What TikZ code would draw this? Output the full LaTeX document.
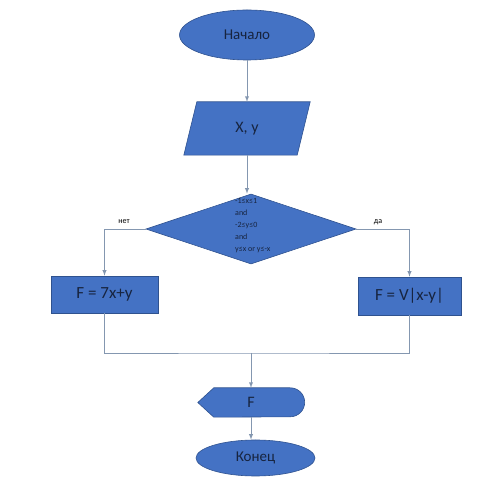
\documentclass[tikz,border=0pt]{standalone}
\usepackage{fontspec}
\setmainfont{Carlito}
\usetikzlibrary{shapes.geometric,arrows}

\definecolor{boxblue}{HTML}{4472C4}
\definecolor{boxedge}{HTML}{2F528F}
\definecolor{boxtext}{HTML}{17243F}
\definecolor{flowline}{HTML}{8497B0}

\begin{document}
\begin{tikzpicture}[x=1pt,y=1pt,
  blk/.style={draw=boxedge,line width=0.6pt,fill=boxblue,text=boxtext,inner sep=0pt},
  term/.style={blk,ellipse,font=\fontsize{15}{15}\selectfont},
  calc/.style={blk,rectangle,font=\fontsize{17}{17}\selectfont},
  flow/.style={draw=flowline,line width=0.9pt}]
\useasboundingbox (0,0) rectangle (500,489);

\node[term,minimum width=135,minimum height=50] (Start) at (247,454) {Начало};
\node[inner sep=0pt,minimum width=113,minimum height=53] (In) at (247,360.5) {};
\node[blk,diamond,minimum width=210,minimum height=70] (Cond) at (251,260) {};
\node[anchor=north west,align=left,inner sep=0pt,text=boxtext,font=\fontsize{8}{12}\selectfont] (CondText) at (235,291)
  {-1≤x≤1\\and\\-2≤y≤0\\and\\y≤x or y≤-x};
\node[calc,minimum width=107,minimum height=37] (Left) at (104.5,194.5) {F = 7x+y};
\node[calc,minimum width=103,minimum height=38] (Right) at (409.5,193) {F = V|x-y|};
\node[inner sep=0pt,minimum width=106,minimum height=29] (Out) at (251,86.5) {};
\node[term,minimum width=119,minimum height=36] (End) at (255.5,31) {Конец};

% parallelogram round the input node
\fill[boxblue,draw=boxedge,line width=0.6pt] ([xshift=-6.5]In.south west) -- ([xshift=6.5]In.north west)
  -- ([xshift=6.5]In.north east) -- ([xshift=-6.5]In.south east) -- cycle;
\node[text=boxtext,font=\fontsize{16}{16}\selectfont] (InText) at (In) {X, y};

% display shape round the output node
\fill[boxblue,draw=boxedge,line width=0.6pt] (Out.west) -- ([xshift=16]Out.north west) -- ([xshift=-14]Out.north east)
  arc[start angle=90,end angle=-90,radius=14.5] -- ([xshift=16]Out.south west) -- cycle;
\node[text=boxtext,font=\fontsize{16}{16}\selectfont] (OutText) at (Out) {F};

\coordinate (Join) at (251,136);

\node[font=\fontsize{8}{8}\selectfont] (No) at (124,267) {нет};
\node[font=\fontsize{8}{8}\selectfont] (Yes) at (378,267) {да};

\draw[flow,->,>=latex] (Start) -- (In);
\draw[flow,->,>=latex] (In.south) -- (In.south |- Cond.north);
\draw[flow,->,>=latex] (Cond.west) -| (Left.north);
\draw[flow,->,>=latex] (Cond.east) -| (Right.north);
\draw[flow] (Left.south) |- (Join) -| (Right.south);
\draw[flow,->,>=latex] (Join) -- (Out.north);
\draw[flow,->,>=latex] (Out.south) -- (Out.south |- End.north);

\end{tikzpicture}
\end{document}
